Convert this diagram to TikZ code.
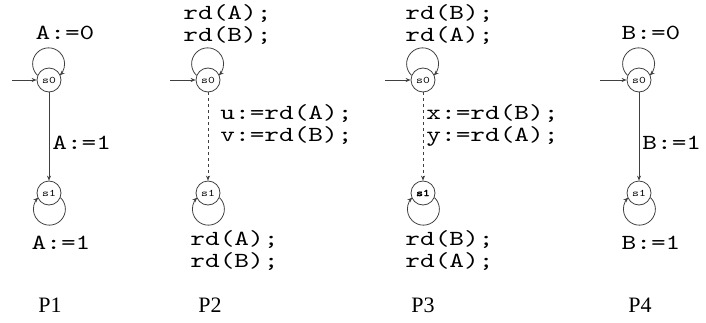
\documentclass[tikz,border=0pt]{standalone}
\usepackage{fontspec}
\setmainfont{Liberation Serif}
\setmonofont{lmmono10-regular.otf}[FakeStretch=1.3, BoldFont=lmmono10-regular.otf, BoldFeatures={FakeBold=2.5}]
\usetikzlibrary{arrows.meta}

\begin{document}
\begin{tikzpicture}[x=1pt, y=1pt, line width=0.8pt,
  >={Stealth[length=5pt,width=4pt]},
  state/.style={shape=circle, draw=black!75, minimum size=24pt, inner sep=0pt, font=\ttfamily\fontsize{10}{10}\selectfont},
  code/.style={shape=rectangle, draw=none, inner sep=0pt, align=left, font=\ttfamily\fontsize{21.5}{22}\selectfont},
  pname/.style={shape=rectangle, draw=none, inner sep=0pt, font=\fontsize{22}{22}\selectfont},
  trans/.style={->, draw=black!75}]
%%%%%%%%%%%%%%%%%%%%%%%%%%%%%%%%%%%%%%%%%%% HELP LINES
%\draw[help lines] (0,0) grid[step=50] (706,322);
\useasboundingbox (0,0) rectangle (706,322);

%%%%%%%%%%%%%%%%%%%%%%%%%%%%%%%%%%%%%%%%%%% P1
\node[state](a0) at (49,242){s0};
\node[state](a1) at (49,129){s1};
\coordinate (ain) at (12,242);
\draw[trans] (ain) -- (a0);
\draw[trans] (a0) -- (a1);
\draw[trans] (a0.158) arc[start angle=226, end angle=-46, radius=16];
\draw[trans] (a1.-22) arc[start angle=46, end angle=-226, radius=16];
\node[code](aset0) at (65,289){A:=0};
\node[code, anchor=west](aset1) at (52,179){A:=1};
\node[code](akeep) at (61,79){A:=1};
\node[pname](p1) at (50,17){P1};

%%%%%%%%%%%%%%%%%%%%%%%%%%%%%%%%%%%%%%%%%%% P2
\node[state](b0) at (208,242){s0};
\node[state](b1) at (208,129){s1};
\coordinate (bin) at (170,242);
\draw[trans] (bin) -- (b0);
\draw[trans, dashed] (b0) -- (b1);
\draw[trans] (b0.158) arc[start angle=226, end angle=-46, radius=16];
\draw[trans] (b1.-22) arc[start angle=46, end angle=-226, radius=16];
\node[code, anchor=west](bread0) at (183,297){rd(A);\\rd(B);};
\node[code, anchor=west](bread1) at (220,197){u:=rd(A);\\v:=rd(B);};
\node[code, anchor=west](bread2) at (190,71){rd(A);\\rd(B);};
\node[pname](p2) at (210,17){P2};

%%%%%%%%%%%%%%%%%%%%%%%%%%%%%%%%%%%%%%%%%%% P3
\node[state](c0) at (423,242){s0};
\node[state, font=\ttfamily\bfseries\fontsize{10}{10}\selectfont](c1) at (423,129){s1};
\coordinate (cin) at (385,242);
\draw[trans] (cin) -- (c0);
\draw[trans, dashed] (c0) -- (c1);
\draw[trans] (c0.158) arc[start angle=226, end angle=-46, radius=16];
\draw[trans] (c1.-22) arc[start angle=46, end angle=-226, radius=16];
\node[code, anchor=west](cread0) at (405,297){rd(B);\\rd(A);};
\node[code, anchor=west](cread1) at (426,197){x:=rd(B);\\y:=rd(A);};
\node[code, anchor=west](cread2) at (405,71){rd(B);\\rd(A);};
\node[pname](p3) at (423,17){P3};

%%%%%%%%%%%%%%%%%%%%%%%%%%%%%%%%%%%%%%%%%%% P4
\node[state](d0) at (639,242){s0};
\node[state](d1) at (639,129){s1};
\coordinate (din) at (600,242);
\draw[trans] (din) -- (d0);
\draw[trans] (d0) -- (d1);
\draw[trans] (d0.158) arc[start angle=226, end angle=-46, radius=16];
\draw[trans] (d1.-22) arc[start angle=46, end angle=-226, radius=16];
\node[code](dset0) at (651,289){B:=0};
\node[code, anchor=west](dset1) at (642,179){B:=1};
\node[code](dkeep) at (651,79){B:=1};
\node[pname](p4) at (640,17){P4};
\end{tikzpicture}
\end{document}
